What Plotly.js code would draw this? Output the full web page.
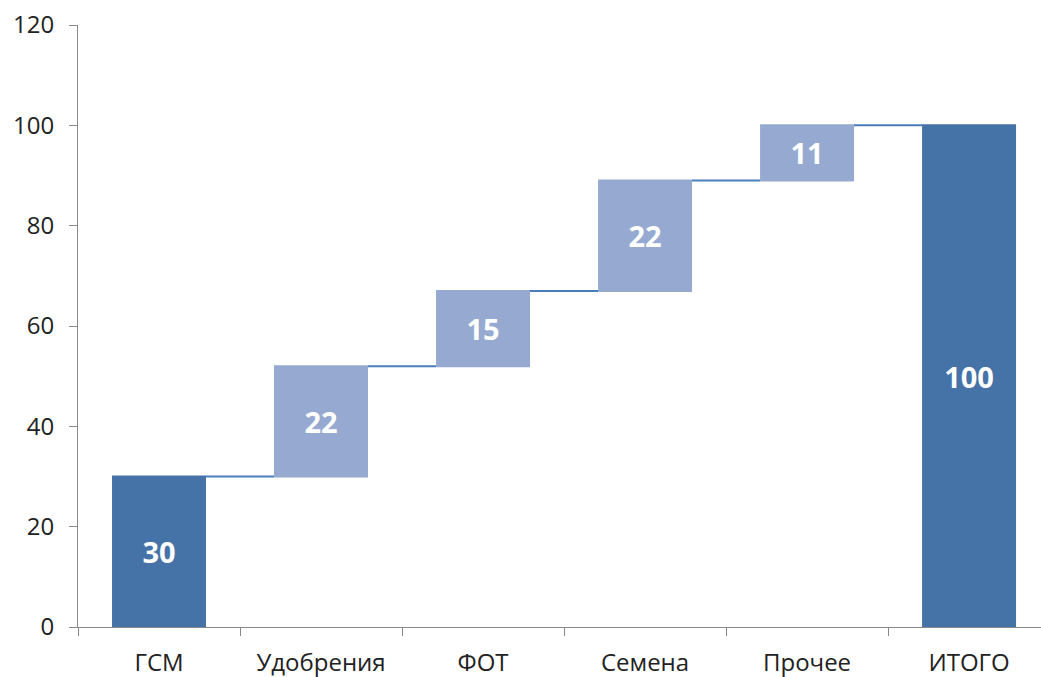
<!DOCTYPE html>
<html>
<head>
<meta charset="utf-8">
<script src="https://cdn.plot.ly/plotly-3.0.1.min.js"></script>
<style>html,body{margin:0;padding:0;background:#fff;}#chart{width:1041px;height:677px;}</style>
</head>
<body>
<div id="chart"></div>
<script>
const categories = ['ГСМ', 'Удобрения', 'ФОТ', 'Семена', 'Прочее', 'ИТОГО'];
const values = [30, 22, 15, 22, 11, 100];
const measures = ['absolute', 'relative', 'relative', 'relative', 'relative', 'total'];
const yTicks = [0, 20, 40, 60, 80, 100, 120];

const trace = {
  type: 'waterfall',
  x: categories,
  y: values,
  measure: measures,
  text: values.map(v => String(v)),
  textposition: 'inside',
  insidetextanchor: 'middle',
  textfont: {family: 'Open Sans, sans-serif', size: 29, color: '#ffffff', weight: 'bold'},
  constraintext: 'none',
  increasing: {marker: {color: '#95a9d1'}},
  totals: {marker: {color: '#4572a7'}},
  connector: {mode: 'between', line: {color: '#4a7ebb', width: 2}},
  hoverinfo: 'x+y'
};

const layout = {
  width: 1041,
  height: 677,
  margin: {l: 78, r: 0, t: 25, b: 50},
  paper_bgcolor: '#ffffff',
  plot_bgcolor: '#ffffff',
  showlegend: false,
  waterfallgap: 0.42,
  font: {family: 'Open Sans, sans-serif', size: 24, color: '#222222'},
  xaxis: {
    type: 'category',
    range: [-0.5, 5.444],
    showgrid: false,
    zeroline: false,
    showline: true,
    linecolor: '#898989',
    linewidth: 1,
    ticks: 'outside',
    tickson: 'boundaries',
    ticklen: 8,
    tickcolor: '#898989',
    tickfont: {size: 24, color: '#222222'},
    ticklabelstandoff: 14
  },
  yaxis: {
    range: [0, 120],
    tickvals: yTicks,
    showgrid: false,
    zeroline: false,
    showline: true,
    linecolor: '#898989',
    linewidth: 1,
    ticks: 'outside',
    ticklen: 8,
    tickcolor: '#898989',
    tickfont: {size: 24, color: '#222222'},
    ticklabelstandoff: 10
  }
};

Plotly.newPlot('chart', [trace], layout, {displayModeBar: false, staticPlot: true});
</script>
</body>
</html>
